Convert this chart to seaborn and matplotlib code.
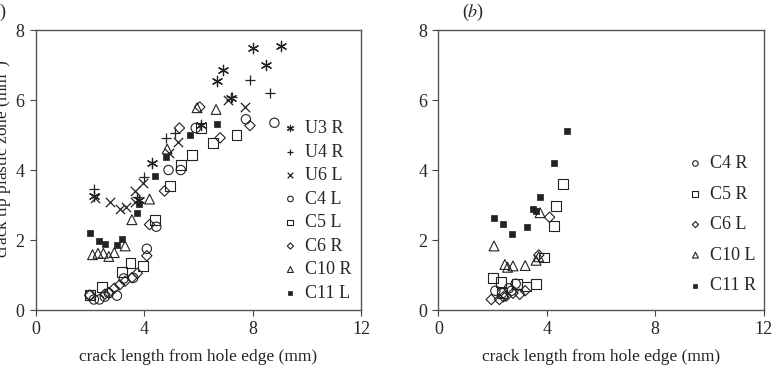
import numpy as np
import pandas as pd
import matplotlib
matplotlib.use("Agg")
import matplotlib.pyplot as plt
import seaborn as sns

# ---- panel (a) data: crack length (mm) vs plastic zone size (mm^2) ----
u3r_x = [2.15, 3.8, 4.3, 6.1, 6.7, 6.9, 7.2, 8.0, 8.5, 9.05]
u3r_y = [3.25, 3.13, 4.2, 5.3, 6.55, 6.85, 6.05, 7.5, 7.0, 7.55]
u4r_x = [2.15, 3.75, 4.0, 4.8, 5.15, 7.25, 7.9, 8.65]
u4r_y = [3.45, 3.22, 3.8, 4.92, 5.06, 6.1, 6.57, 6.2]
u6l_x = [2.2, 2.75, 3.1, 3.35, 3.65, 3.65, 3.95, 4.9, 5.25, 7.1, 7.7]
u6l_y = [3.2, 3.1, 2.88, 2.95, 3.1, 3.4, 3.63, 4.5, 4.8, 6.0, 5.8]
c4l_x = [2.0, 2.15, 2.35, 2.55, 2.7, 3.0, 3.25, 3.6, 4.1, 4.45, 4.9, 5.35, 5.9, 7.75, 8.8]
c4l_y = [0.43, 0.3, 0.3, 0.38, 0.48, 0.41, 0.9, 0.92, 1.75, 2.38, 4.0, 4.0, 5.2, 5.45, 5.35]
c5l_x = [2.0, 2.45, 3.2, 3.5, 3.95, 4.4, 4.95, 5.35, 5.75, 6.1, 6.55, 7.4]
c5l_y = [0.42, 0.66, 1.08, 1.34, 1.26, 2.57, 3.55, 4.15, 4.44, 5.2, 4.78, 5.0]
c6r_x = [2.0, 2.55, 2.7, 2.9, 3.1, 3.3, 3.55, 3.75, 4.1, 4.2, 4.75, 5.3, 6.05, 6.8, 7.9]
c6r_y = [0.42, 0.45, 0.5, 0.62, 0.72, 0.82, 0.92, 1.05, 1.55, 2.44, 3.4, 5.2, 5.8, 4.92, 5.27]
c10r_x = [2.1, 2.3, 2.5, 2.7, 2.9, 3.3, 3.55, 4.2, 4.85, 5.95, 6.65]
c10r_y = [1.58, 1.62, 1.62, 1.53, 1.64, 1.83, 2.58, 3.17, 4.6, 5.78, 5.73]
c11l_x = [2.0, 2.35, 2.55, 3.0, 3.2, 3.75, 3.8, 4.4, 4.8, 5.7, 6.7]
c11l_y = [2.2, 1.98, 1.88, 1.86, 2.03, 2.77, 3.03, 3.82, 4.38, 5.0, 5.32]

# ---- panel (b) data ----
c4r_x = [2.1, 2.35, 2.6, 2.7, 2.85]
c4r_y = [0.55, 0.48, 0.62, 0.55, 0.75]
c5r_x = [2.0, 2.3, 2.35, 2.9, 3.25, 3.6, 3.9, 4.25, 4.35, 4.6]
c5r_y = [0.92, 0.8, 0.48, 0.75, 0.67, 0.74, 1.5, 2.41, 2.97, 3.6]
c6l_x = [1.95, 2.25, 2.4, 2.5, 2.75, 3.0, 3.2, 3.7, 4.1]
c6l_y = [0.3, 0.3, 0.38, 0.4, 0.48, 0.45, 0.55, 1.57, 2.65]
c10l_x = [2.05, 2.45, 2.55, 2.75, 3.2, 3.6, 3.7, 3.75]
c10l_y = [1.83, 1.3, 1.22, 1.26, 1.27, 1.42, 1.52, 2.78]
c11r_x = [2.05, 2.4, 2.7, 3.25, 3.5, 3.6, 3.75, 4.25, 4.75]
c11r_y = [2.62, 2.46, 2.16, 2.36, 2.9, 2.83, 3.22, 4.21, 5.11]

x_ticks = [0, 4, 8, 12]
y_ticks = [0, 2, 4, 6, 8]

sns.set_theme(style="ticks")
plt.rcParams['font.family'] = ['Liberation Serif', 'DejaVu Serif']
plt.rcParams['mathtext.fontset'] = 'stix'

ink = '#222222'
open_style = dict(facecolor='none', edgecolor=ink, linewidth=0.8)
line_style = dict(color=ink, linewidth=0.9)
solid_style = dict(color=ink, edgecolor=ink, linewidth=0.5)

series_a = [
    ('U3 R', u3r_x, u3r_y, (6, 2, 0), 55, line_style),
    ('U4 R', u4r_x, u4r_y, '+', 55, line_style),
    ('U6 L', u6l_x, u6l_y, 'x', 45, line_style),
    ('C4 L', c4l_x, c4l_y, 'o', 45, open_style),
    ('C5 L', c5l_x, c5l_y, 's', 50, open_style),
    ('C6 R', c6r_x, c6r_y, 'D', 28, open_style),
    ('C10 R', c10r_x, c10r_y, '^', 50, open_style),
    ('C11 L', c11l_x, c11l_y, 's', 14, solid_style),
]
series_b = [
    ('C4 R', c4r_x, c4r_y, 'o', 45, open_style),
    ('C5 R', c5r_x, c5r_y, 's', 50, open_style),
    ('C6 L', c6l_x, c6l_y, 'D', 28, open_style),
    ('C10 L', c10l_x, c10l_y, '^', 50, open_style),
    ('C11 R', c11r_x, c11r_y, 's', 14, solid_style),
]

fig = plt.figure(figsize=(7.72, 3.66), dpi=100)
ax1 = fig.add_axes([0.046, 0.153, 0.422, 0.765])
ax2 = fig.add_axes([0.568, 0.153, 0.421, 0.765])


def draw_panel(ax, series, legend_anchor, spacing):
    for name, xs, ys, marker, size, style in series:
        df = pd.DataFrame({'x': xs, 'y': ys})
        sns.scatterplot(data=df, x='x', y='y', marker=marker, s=size,
                        label=name, ax=ax, **style)
    ax.set_xlim(0, 12)
    ax.set_ylim(0, 8)
    ax.set_xticks(x_ticks)
    ax.set_yticks(y_ticks)
    ax.tick_params(labelsize=13, length=4, width=0.8, color='#444444',
                   direction='out', pad=4, top=False, right=False)
    for sp in ax.spines.values():
        sp.set_color('#555555')
        sp.set_linewidth(1.0)
    ax.set_xlabel('crack length from hole edge (mm)', fontsize=12.5, labelpad=8)
    ax.set_ylabel('')
    ax.legend(loc='upper left', bbox_to_anchor=legend_anchor, frameon=False,
              fontsize=13, markerscale=0.6, handletextpad=0.3,
              handlelength=1.0, labelspacing=spacing, borderpad=0)


draw_panel(ax1, series_a, (0.727, 0.71), 0.36)
draw_panel(ax2, series_b, (0.735, 0.585), 0.75)

# y label and panel tags sit partly outside the figure edge, as in the source
fig.text(0.003, 0.565, 'crack tip plastic zone (mm$^2$)', rotation=90,
         ha='center', va='center', fontsize=12.5)
fig.text(0.008, 0.965, '($a$)', ha='right', va='center', fontsize=13)
fig.text(0.598, 0.965, '($b$)', ha='left', va='center', fontsize=13)

fig.savefig('out.png', dpi=100)
